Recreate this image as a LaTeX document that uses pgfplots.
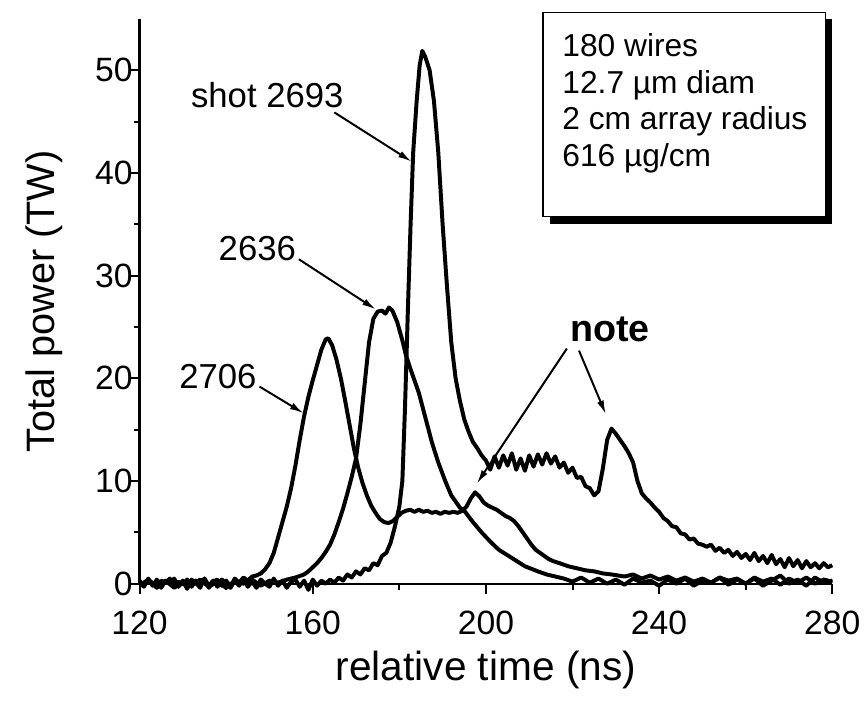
\documentclass[border=0pt]{standalone}
\usepackage{fontspec}
\setmainfont{Liberation Sans}
\usepackage{pgfplots}
\pgfplotsset{compat=1.18}
\usetikzlibrary{arrows.meta,shadows}

\begin{document}
\begin{tikzpicture}
\begin{axis}[
    scale only axis,
    width=349.5pt, height=284.9pt,
    xmin=120, xmax=280, ymin=0, ymax=55,
    axis lines*=left,
    axis line style={line width=1.1pt,-},
    xtick={120,160,200,240,280},
    minor xtick={140,180,220,260},
    ytick={0,10,20,30,40,50},
    minor ytick={5,15,25,35,45},
    tick align=outside,
    major tick length=5pt, minor tick length=3pt,
    every tick/.style={line width=1pt, black},
    /pgf/number format/assume math mode=true,
    ticklabel style={font=\fontsize{17}{20}\selectfont},
    yticklabel style={xshift=5pt},
    xticklabel style={yshift=-5pt},
    xlabel={relative time (ns)},
    ylabel={Total power (TW)},
    xlabel style={font=\fontsize{20.5}{24}\selectfont, at={(axis description cs:0.5,-0.172)}, anchor=base},
    ylabel style={font=\fontsize{20}{24}\selectfont, at={(axis description cs:-0.123,0.5)}, anchor=base},
    clip=false,
    cycle list={{black}},
    every axis plot/.append style={line width=2pt, line join=round, no marks},
]

% shot 2693
\addplot coordinates {
(120,0.2) (121,-0.3) (122,0.5) (123,-0.2) (124,0.4) (125,-0.4) (126,0.3) (127,0.0)
(128,0.5) (129,-0.3) (130,0.3) (131,-0.5) (132,0.4) (133,0.1) (134,-0.4) (135,0.5)
(136,-0.2) (137,0.3) (138,-0.3) (139,0.4) (140,0.0) (141,-0.4) (142,0.3) (143,-0.2)
(144,0.5) (145,-0.3) (146,0.2) (147,-0.4) (148,0.4) (149,0.0) (150,-0.3) (151,0.5)
(152,-0.2) (153,0.3) (154,-0.4) (155,0.2) (156,0.4) (157,-0.3) (158,0.3) (159,-0.6)
(160,0.4) (161,-0.2) (162,0.3) (163,0.0) (164,0.4) (165,0.1) (166,0.6) (167,0.3)
(168,0.9) (169,0.6) (170,1.2) (171,0.9) (172,1.5) (173,1.3) (174,2.0) (175,1.8)
(176,2.7) (177,3.0) (178,4.0) (179,5.6) (180,7.5) (180.7,10) (181.3,17) (182,27)
(182.6,35) (183.2,42) (184,47) (184.7,50.5) (185.3,51.9) (186,51.3) (187,50) (188,47)
(189,42) (190,35) (191,29) (192,23.5) (193,20) (194,17.8) (195,16) (196,14.8)
(197,13.8) (198,13.2) (199,12.5) (200,12.0) (201,11.1) (202,12.4) (203,11.3) (204,12.5)
(205,11.5) (206,12.7) (207,11.1) (208,12.2) (209,11.0) (210,12.5) (211,11.4) (212,12.6)
(213,11.6) (214,12.7) (215,11.7) (216,12.4) (217,11.3) (218,11.8) (219,10.8) (220,11.3)
(221,10.3) (222,10.4) (223,9.5) (224,9.3) (225,8.6) (226,9.0) (227,11.2) (228,14.0)
(229,15.1) (230,14.6) (231,14.0) (232,13.4) (233,12.7) (234,11.8) (235,10.0) (236,8.8)
(237,8.3) (238,7.9) (239,7.4) (240,7.0) (241,6.4) (242,6.1) (243,5.6) (244,5.5)
(245,4.9) (246,4.8) (247,4.3) (248,4.4) (249,3.9) (250,3.8) (251,3.6) (252,3.8)
(253,3.2) (254,3.5) (255,3.0) (256,3.3) (257,2.7) (258,3.1) (259,2.5) (260,2.9)
(261,2.3) (262,3.0) (263,2.2) (264,2.7) (265,2.0) (266,2.8) (267,1.9) (268,2.4)
(269,1.6) (270,2.5) (271,1.7) (272,2.3) (273,1.5) (274,2.2) (275,1.6) (276,2.0)
(277,1.5) (278,2.0) (279,1.6) (280,1.8)
};

% 2636
\addplot coordinates {
(120,-0.2) (122,0.4) (124,-0.3) (126,0.3) (128,-0.4) (130,0.2) (132,-0.2) (134,0.4)
(136,-0.3) (138,0.2) (140,-0.4) (142,0.3) (144,0.0) (146,0.4) (148,-0.2) (150,0.3)
(152,0.1) (154,0.4) (156,0.6) (158,0.9) (159,1.2) (160,1.6) (161,2.0) (162,2.5)
(163,3.1) (164,3.8) (165,4.8) (166,6.0) (167,7.3) (168,8.8) (169,10.4) (170,12.2)
(171,15.5) (172,19.5) (173,23.5) (174,25.8) (175,26.5) (176,26.6) (176.8,26.3) (177.6,26.9)
(178.4,26.6) (179.5,25.5) (180.7,23.7) (181.5,22.3) (182.5,21.0) (183.5,19.8) (184.5,18.6) (186,16.2)
(187.5,13.8) (189,11.8) (190.6,10.0) (192,8.6) (194,7.4) (195.2,7.0) (197,6.0) (199,5.0)
(201,4.1) (203,3.3) (206,2.5) (209,1.7) (212,1.2) (214,0.9) (216,0.7) (218,0.5)
(220,0.2) (222,0.6) (224,0.1) (226,0.5) (228,0.0) (230,0.4) (232,-0.1) (234,0.5)
(236,0.1) (238,0.3) (240,-0.2) (242,0.4) (244,0.0) (246,0.5) (248,-0.2) (250,0.3)
(252,0.1) (254,0.6) (256,-0.1) (258,0.4) (260,0.0) (262,0.5) (264,-0.2) (266,0.3)
(268,0.8) (270,0.0) (272,0.4) (274,-0.2) (276,0.6) (278,0.1) (280,0.3)
};

% 2706
\addplot coordinates {
(120,0.3) (121,-0.2) (122,0.4) (123,0.0) (124,-0.4) (125,0.3) (126,0.1) (127,0.5)
(128,-0.3) (129,0.2) (130,-0.1) (131,0.4) (132,-0.3) (133,0.3) (134,0.0) (135,0.5)
(136,-0.4) (137,0.2) (138,0.4) (139,-0.2) (140,0.3) (141,-0.3) (142,0.5) (143,0.1)
(144,0.6) (145,0.3) (146,0.7) (147,0.8) (148,1.0) (149,1.4) (150,2.0) (151,3.0)
(152,4.5) (153,6.0) (154,7.5) (155,9.3) (156,11.5) (157,14.0) (158,16.3) (159,18.2)
(160,19.8) (161,21.3) (162,22.8) (163,23.8) (163.6,23.9) (164.5,23.2) (165.5,21.8) (166.5,20.0)
(167.5,17.8) (168.5,15.5) (169.5,13.2) (170.5,11.3) (171.5,9.8) (172.5,8.6) (173.5,7.6) (174.5,6.9)
(175.5,6.3) (176.5,6.0) (177.5,5.9) (178.5,6.1) (179.5,6.5) (180.5,6.9) (181.5,7.1) (182.5,7.2)
(183.5,7.0) (184.5,7.2) (185.5,7.0) (186.5,7.1) (187.5,6.9) (188.5,7.0) (189.5,6.8) (190.5,7.0)
(191.5,6.9) (192.5,7.0) (193.5,6.9) (194.5,7.1) (195.5,7.5) (196.5,8.3) (197.5,8.9) (198.5,8.5)
(199.5,7.9) (200.5,7.6) (201.5,7.4) (202.5,7.2) (203.5,6.9) (204.5,6.6) (205.5,6.4) (206.5,6.1)
(207.5,5.6) (208.5,5.0) (209.5,4.4) (210.5,3.8) (211.5,3.3) (212.5,3.0) (213.5,2.7) (214.5,2.4)
(215.5,2.2) (217,2.0) (219,1.7) (221,1.5) (223,1.3) (225,1.2) (227,1.0) (229,0.9)
(232,0.7) (234,0.9) (236,0.5) (238,0.8) (240,0.4) (242,0.7) (244,0.3) (246,0.6)
(248,0.2) (250,0.5) (252,0.1) (254,0.6) (256,0.3) (258,0.5) (260,0.0) (262,0.6)
(264,0.2) (266,0.5) (268,-0.1) (270,0.5) (272,0.1) (274,0.6) (276,0.0) (278,0.4) (280,0.2)
};

% annotations
\node[font=\fontsize{17.5}{20}\selectfont] at (axis cs:149.5,47.6) {shot 2693};
\node[font=\fontsize{17.5}{20}\selectfont] at (axis cs:147.2,32.6) {2636};
\node[font=\fontsize{17.5}{20}\selectfont] at (axis cs:138.1,20.2) {2706};
\node[font=\fontsize{19}{22}\selectfont\bfseries] at (axis cs:228.6,24.8) {note};
\draw[line width=1pt, -{Latex[length=7pt,width=3.5pt]}] (axis cs:165.0,45.9) -- (axis cs:182.9,41.1);
\draw[line width=1pt, -{Latex[length=7pt,width=3.5pt]}] (axis cs:156.8,31.6) -- (axis cs:174.6,26.7);
\draw[line width=1pt, -{Latex[length=7pt,width=3.5pt]}] (axis cs:147.7,19.2) -- (axis cs:157.9,16.6);
\draw[line width=1pt, -{Latex[length=7pt,width=3.5pt]}] (axis cs:218.7,22.9) -- (axis cs:197.9,9.75);
\draw[line width=1pt, -{Latex[length=7pt,width=3.5pt]}] (axis cs:221.5,22.7) -- (axis cs:227.7,16.5);

% info box
\node[draw, line width=0.7pt, fill=white, anchor=north west, inner sep=0pt,
      minimum width=142.5pt, minimum height=103pt,
      drop shadow={shadow xshift=3.5pt, shadow yshift=-3.5pt, fill=black, opacity=1}]
      (box) at (axis cs:213,55.7) {};
\begin{scope}[every node/.style={anchor=base west, inner sep=0pt, font=\fontsize{16}{19}\selectfont}]
\node at ([xshift=10pt,yshift=-22.5pt]box.north west) {180 wires};
\node at ([xshift=10pt,yshift=-41pt]box.north west) {12.7 µm diam};
\node at ([xshift=10pt,yshift=-59.5pt]box.north west) {2 cm array radius};
\node at ([xshift=10pt,yshift=-78pt]box.north west) {616 µg/cm};
\end{scope}

\path (axis cs:87.77,-11.39) rectangle (axis cs:285.94,56.85);
\end{axis}
\end{tikzpicture}
\end{document}
